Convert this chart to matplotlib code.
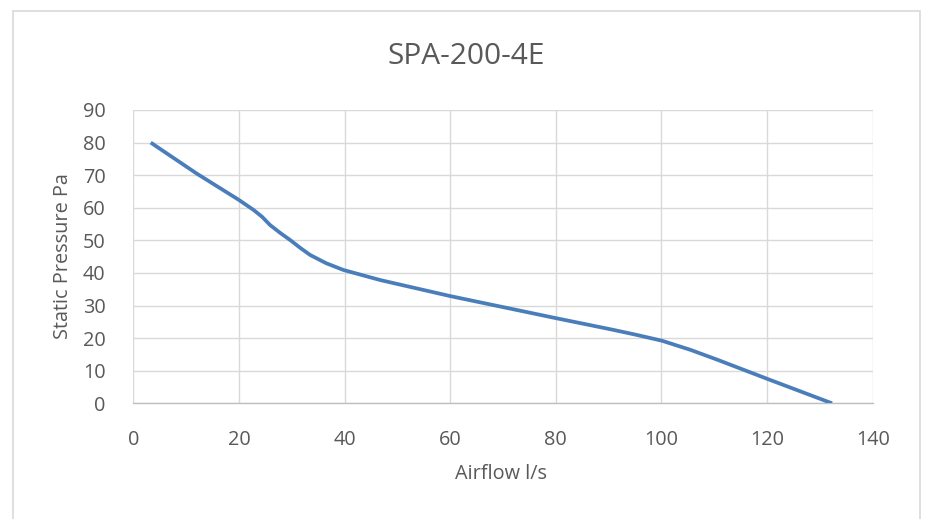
import matplotlib
matplotlib.use("Agg")
import matplotlib.pyplot as plt
from matplotlib.patches import Rectangle

# values
airflow = [3.3, 12.0, 20.0, 22.8, 24.4, 25.9, 27.8, 29.7, 31.6, 33.5, 36.5, 39.8, 46.8,
           60.0, 80.1, 90.4, 95.0, 100.1, 105.5, 110.7, 120.2, 132.3]
pressure = [80.0, 70.5, 62.4, 59.3, 57.2, 54.7, 52.3, 50.1, 47.7, 45.5, 43.0, 40.9, 37.8,
            32.9, 26.1, 22.7, 21.1, 19.2, 16.4, 13.3, 7.4, 0.0]
x_ticks = [0, 20, 40, 60, 80, 100, 120, 140]
y_ticks = [0, 10, 20, 30, 40, 50, 60, 70, 80, 90]

title = "SPA-200-4E"
x_label = "Airflow l/s"
y_label = "Static Pressure Pa"

text_color = "#595959"
grid_color = "#D9D9D9"
line_color = "#4A7EBB"

plt.rcParams["font.family"] = ["Open Sans", "DejaVu Sans"]

W, H = 927, 519
fig = plt.figure(figsize=(W / 100, H / 100), dpi=100)
fig.patch.set_facecolor("white")

# chart area border (bottom edge runs off the picture)
fig.patches.append(Rectangle((12.5 / W, -0.05), (920.3 - 12.5) / W, 1.05 - 10.5 / H,
                             transform=fig.transFigure, fill=False,
                             edgecolor=grid_color, linewidth=1.2))

left, right = 133.3, 872.7
top, bottom = 110.0, 403.3
ax = fig.add_axes([left / W, 1 - bottom / H, (right - left) / W, (bottom - top) / H])

ax.plot(airflow, pressure, color=line_color, linewidth=2.7,
        solid_capstyle="butt", solid_joinstyle="round", zorder=3)

ax.set_xlim(0, 140)
ax.set_ylim(0, 90)
ax.set_xticks(x_ticks)
ax.set_yticks(y_ticks)
ax.tick_params(length=0, labelsize=14.3, labelcolor=text_color)
ax.tick_params(axis="x", pad=19)
ax.tick_params(axis="y", pad=20)

ax.grid(True, color=grid_color, linewidth=1.0)
ax.set_axisbelow(True)
for side in ["top", "right", "left"]:
    ax.spines[side].set_visible(False)
ax.spines["bottom"].set_color("#BFBFBF")
ax.spines["bottom"].set_linewidth(1.0)

fig.text(465.7 / W, 1 - 56 / H, title, ha="center", va="center",
         fontsize=21.5, color=text_color)
fig.text(501 / W, 1 - 474 / H, x_label, ha="center", va="center",
         fontsize=14.3, color=text_color)
fig.text(63 / W, 1 - 256.5 / H, y_label, ha="center", va="center",
         rotation=90, fontsize=14.3, color=text_color)

fig.savefig("out.png", dpi=100)
